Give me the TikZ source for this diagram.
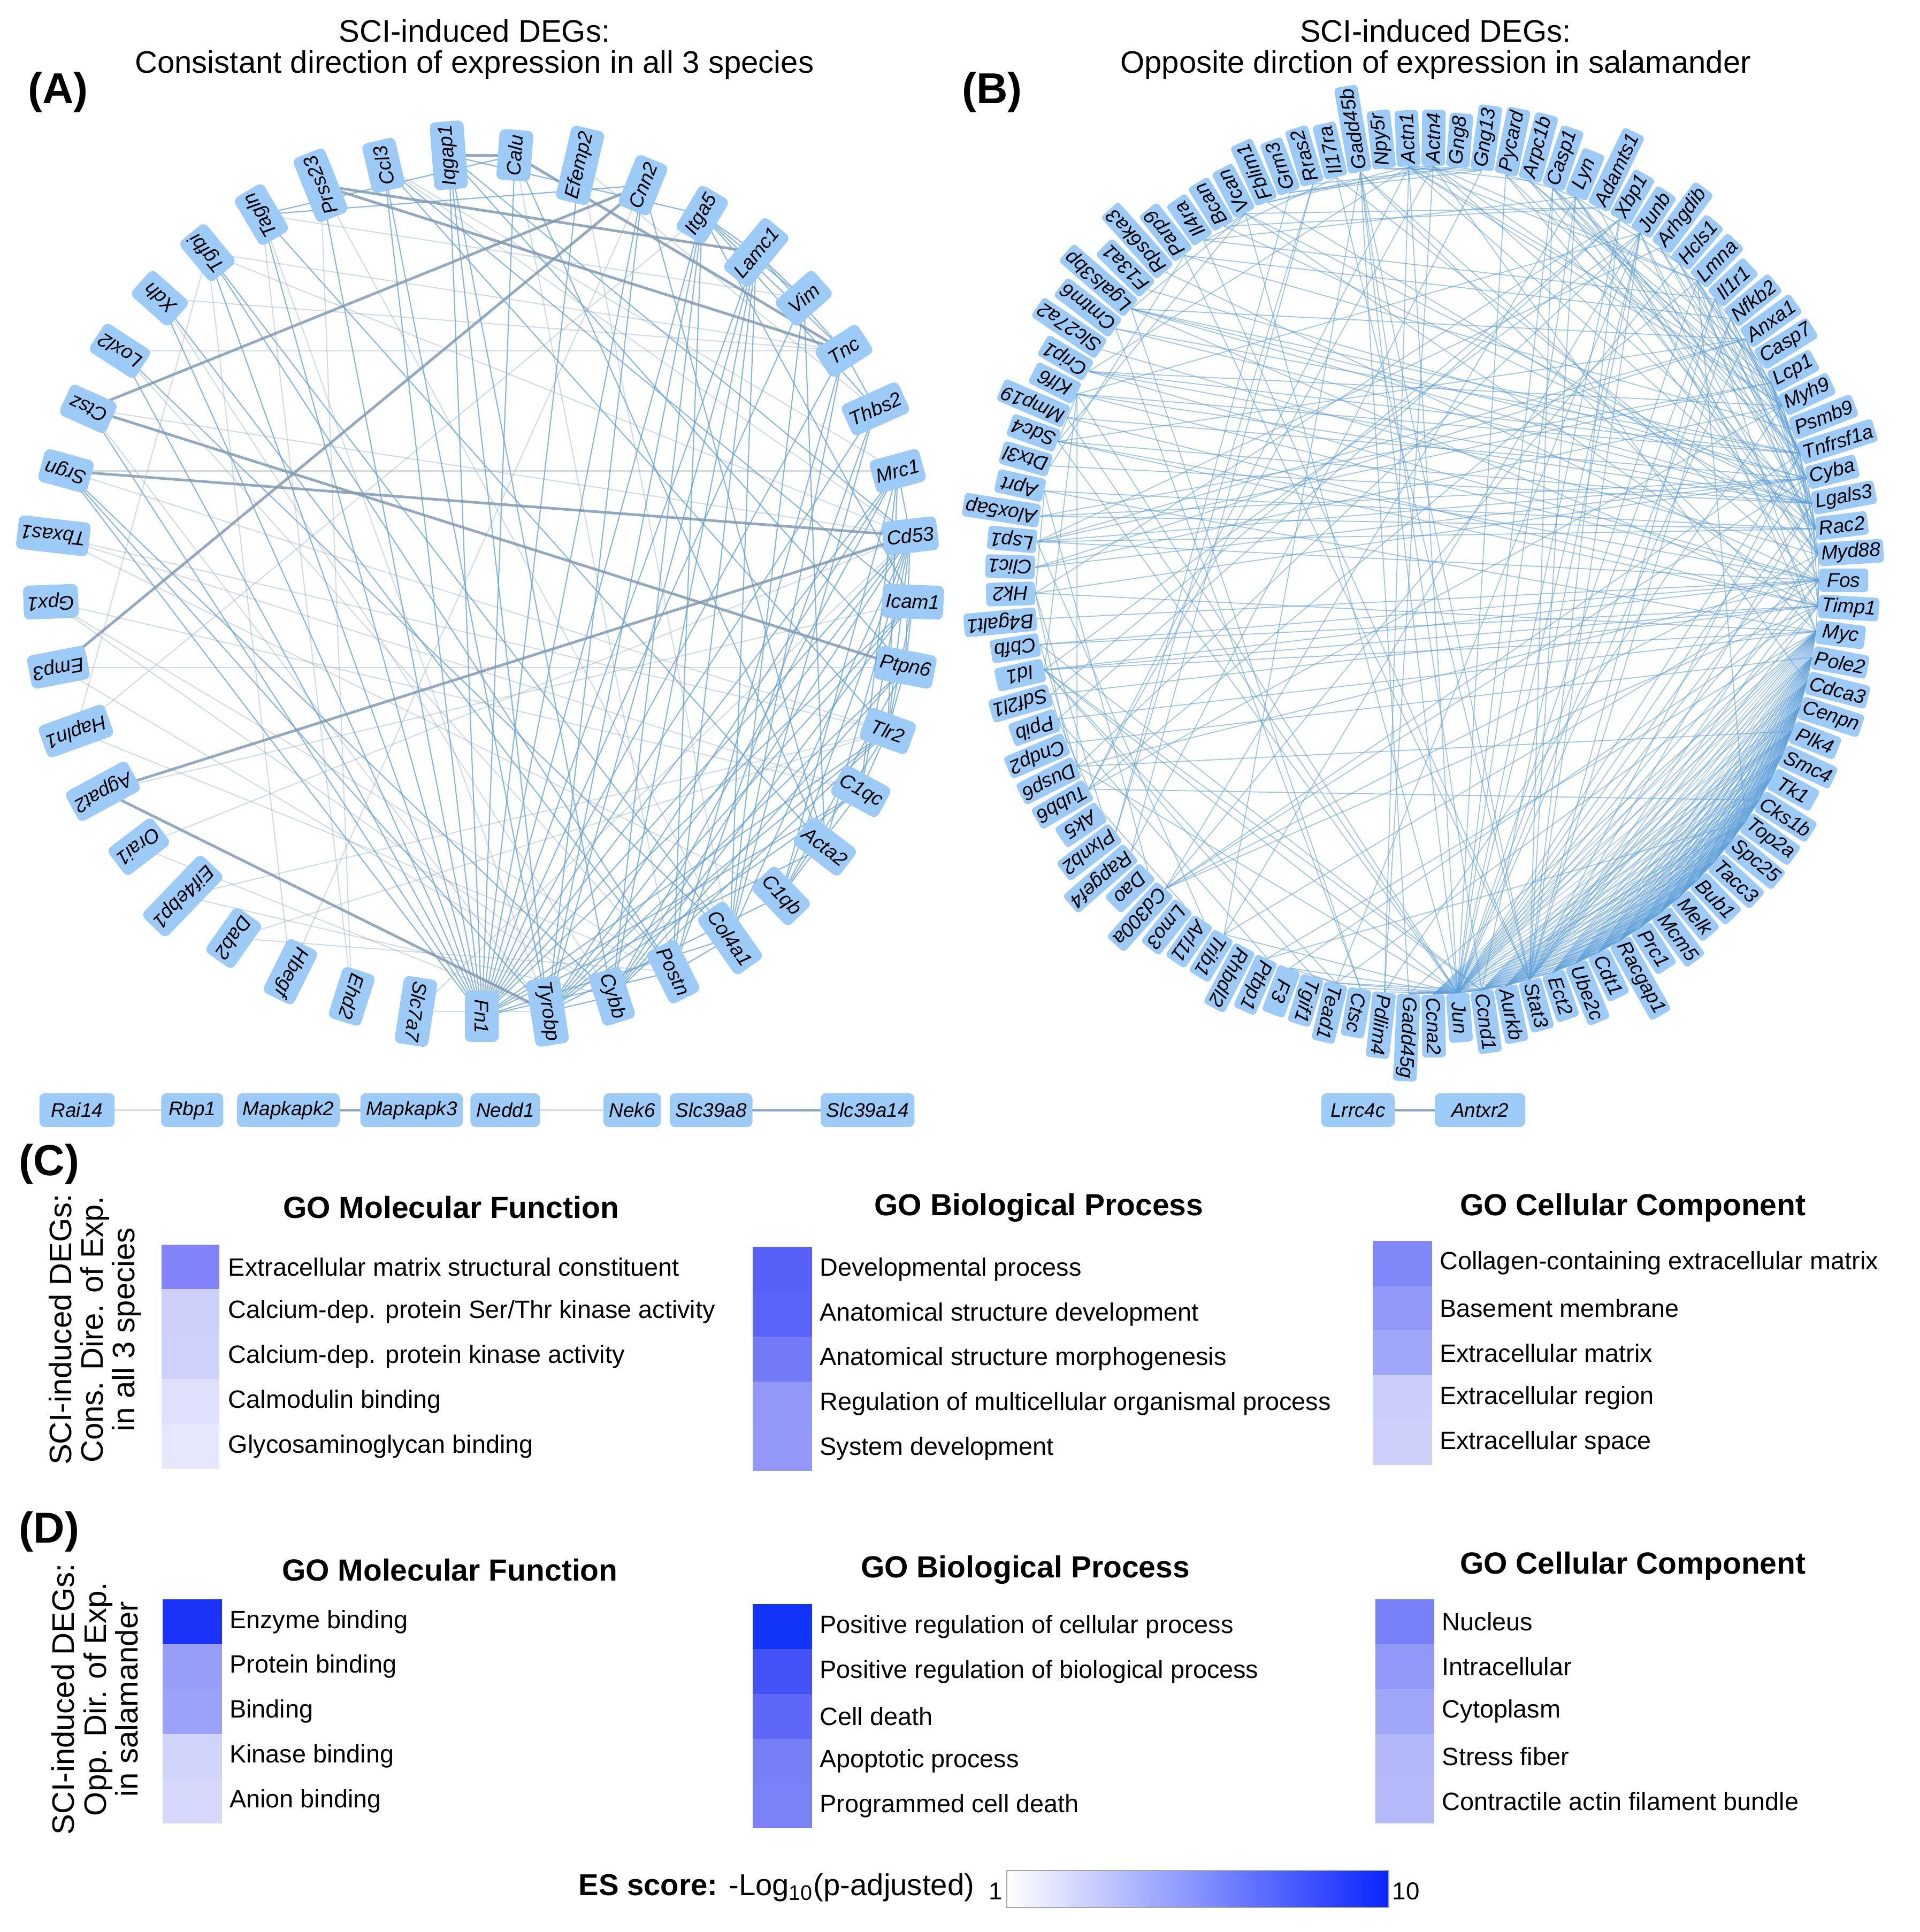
\documentclass[tikz,border=0pt]{standalone}
\usepackage{fontspec}
\setmainfont{Liberation Sans}
\usetikzlibrary{backgrounds}

\definecolor{nodeblue}{HTML}{9DCBF8}
\definecolor{edgeblue}{HTML}{5E9FD8}
\definecolor{edgegray}{HTML}{7F9AB4}
\definecolor{esblue}{HTML}{0A24FF}

\tikzset{
  agene/.style={fill=nodeblue, rounded corners=3pt, minimum height=18pt, minimum width=27pt,
    inner xsep=2pt, inner ysep=0pt, font=\fontsize{10.5}{12}\selectfont\itshape},
  bgene/.style={fill=nodeblue, rounded corners=2pt, minimum height=12.5pt, minimum width=26pt,
    inner xsep=1.5pt, inner ysep=0pt, font=\fontsize{10.5}{12}\selectfont\itshape},
  rowgene/.style={agene, inner xsep=3pt},
  aedge/.style={edgeblue, line width=0.6pt, opacity=0.75},
  faintedge/.style={edgegray, line width=0.6pt, opacity=0.35},
  heavyedge/.style={edgegray, line width=1.4pt, opacity=0.85},
  bedge/.style={edgeblue, line width=0.5pt, opacity=0.6},
  ccedge/.style={edgeblue, line width=0.45pt, opacity=0.5},
  panel/.style={font=\fontsize{23}{27}\selectfont\bfseries},
  title/.style={font=\fontsize{16.5}{16.5}\selectfont, align=center},
  gohead/.style={font=\fontsize{16.2}{18}\selectfont\bfseries},
  goterm/.style={anchor=west, inner xsep=0pt, font=\fontsize{13.3}{15}\selectfont},
  sidelabel/.style={rotate=90, align=center, font=\fontsize{16.5}{16.8}\selectfont},
}

\def\cclist{Pole2,Cdca3,Cenpn,Plk4,Smc4,Tk1,Cks1b,Top2a,Spc25,Tacc3,Bub1,Melk,Mcm5,Prc1,Racgap1,Cdt1,Ube2c,Ect2,Aurkb,Ccnd1,Ccna2,Myc}

\begin{document}
\begin{tikzpicture}[x=0.023cm, y=0.023cm]
\useasboundingbox (0,0) rectangle (1558,1568);

% titles
\node[panel] (labA) at (47,1493) {(A)};
\node[title] (titA) at (385,1528) {SCI-induced DEGs:\\Consistant direction of expression in all 3 species};
\node[panel] (labB) at (805,1493) {(B)};
\node[title] (titB) at (1165,1528) {SCI-induced DEGs:\\Opposite dirction of expression in salamander};

% (A) circle
\begin{scope}[shift={(391,1093)}]
  \foreach \g [count=\i, evaluate=\i as \ang using 270+(22-\i)*8.780488] in
    {Iqgap1,Calu,Efemp2,Cnn2,Itga5,Lamc1,Vim,Tnc,Thbs2,Mrc1,Cd53,Icam1,Ptpn6,Tlr2,C1qc,Acta2,C1qb,
     Col4a1,Postn,Cybb,Tyrobp,Fn1,Slc7a7,Ehd2,Hbegf,Dab2,Eif4ebp1,Orai1,Agpat2,Hapln1,Emp3,Gpx1,
     Tbxas1,Srgn,Ctsz,Loxl2,Xdh,Tgfbi,Tagln,Prss23,Ccl3}
    \node[agene, rotate=\ang] (\g) at (\ang:350) {\g};
\end{scope}

% (A) pairs
\node[rowgene, minimum width=40pt] (Rai14) at (62.5,667) {Rai14};
\node[rowgene, minimum width=33pt] (Rbp1) at (156,667) {Rbp1};
\node[rowgene] (Mapkapk2) at (234,667) {Mapkapk2};
\node[rowgene] (Mapkapk3) at (334,667) {Mapkapk3};
\node[rowgene] (Nedd1) at (410,667) {Nedd1};
\node[rowgene] (Nek6) at (513,667) {Nek6};
\node[rowgene] (Slc39a8) at (577,667) {Slc39a8};
\node[rowgene] (Slc39a14) at (704,667) {Slc39a14};

% (B) circle
\begin{scope}[shift={(1158,1097)}]
  \foreach \g [count=\i, evaluate=\i as \ang using (38-\i)*3.564356] in
    {Rps6ka3,Parp9,Il4ra,Bcan,Vcan,Fblim1,Grm3,Rras2,Il17ra,Gadd45b,Npy5r,Actn1,Actn4,Gng8,Gng13,
     Pycard,Arpc1b,Casp1,Lyn,Adamts1,Xbp1,Junb,Arhgdib,Hcls1,Lmna,Il1r1,Nfkb2,Anxa1,Casp7,Lcp1,
     Myh9,Psmb9,Tnfrsf1a,Cyba,Lgals3,Rac2,Myd88,Fos,Timp1,Myc,Pole2,Cdca3,Cenpn,Plk4,Smc4,Tk1,
     Cks1b,Top2a,Spc25,Tacc3,Bub1,Melk,Mcm5,Prc1,Racgap1,Cdt1,Ube2c,Ect2,Stat3,Aurkb,Ccnd1,Jun,
     Ccna2,Gadd45g,Pdlim4,Ctsc,Tead1,Tgif1,F3,Ptbp1,Rhbdl2,Trib1,Arl11,Lmo3,Cd300a,Dao,Rapgef4,
     Plxnb2,Ak5,Tubb6,Dusp6,Cndp2,Ppib,Sdf2l1,Id1,Cbfb,B4galt1,Hk2,Clic1,Lsp1,Alox5ap,Aprt,Dtx3l,
     Sdc4,Mmp19,Klf6,Crip1,Slc27a2,Cmtm6,Lgals3bp,F13a1}
    \node[bgene, rotate=\ang, anchor=west] (\g) at (\ang:318 and 336) {\g};
\end{scope}

\node[rowgene, minimum width=39pt] (Lrrc4c) at (1102,667) {Lrrc4c};
\node[rowgene, minimum width=48pt] (Antxr2) at (1201,667) {Antxr2};

% connectors
\begin{scope}[on background layer]
  \foreach \a/\b in {Fn1/Iqgap1,Fn1/Calu,Fn1/Efemp2,Fn1/Cnn2,Fn1/Itga5,Fn1/Lamc1,Fn1/Vim,Fn1/Tnc,
      Fn1/Thbs2,Fn1/Mrc1,Fn1/Cd53,Fn1/Icam1,Fn1/Tlr2,Fn1/C1qc,Fn1/Acta2,Fn1/Col4a1,Fn1/Postn,
      Fn1/Prss23,Fn1/Tagln,Fn1/Tgfbi,Fn1/Xdh,Fn1/Srgn,Fn1/Ccl3,Fn1/Ctsz,Fn1/Loxl2,
      Tyrobp/Cd53,Tyrobp/Ptpn6,Tyrobp/Tlr2,Tyrobp/C1qc,Tyrobp/C1qb,Tyrobp/Mrc1,Tyrobp/Icam1,
      Tyrobp/Cybb,Tyrobp/Ccl3,Tyrobp/Iqgap1,Tyrobp/Itga5,Tyrobp/Lamc1,Tyrobp/Cnn2,
      Cybb/Cd53,Cybb/Ptpn6,Cybb/Tlr2,Cybb/Icam1,Cybb/Mrc1,Cybb/Itga5,Cybb/Iqgap1,Cybb/Lamc1,
      Postn/Tnc,Postn/Thbs2,Postn/Col4a1,Postn/Lamc1,Postn/Itga5,
      Col4a1/Lamc1,Col4a1/Thbs2,Col4a1/Tnc,Col4a1/Vim,Col4a1/Cd53,
      C1qb/C1qc,C1qb/Cd53,C1qb/Tlr2,C1qb/Mrc1,C1qb/Ptpn6,C1qc/Cd53,C1qc/Tlr2,C1qc/Mrc1,
      Acta2/Cnn2,Acta2/Tagln,Acta2/Vim,Acta2/Calu,Acta2/Cd53,
      Tlr2/Cd53,Tlr2/Icam1,Tlr2/Ptpn6,Tlr2/Ccl3,Tlr2/Mrc1,Ptpn6/Cd53,Ptpn6/Icam1,Cd53/Mrc1,
      Icam1/Itga5,Icam1/Ccl3,Itga5/Lamc1,Itga5/Tnc,Itga5/Vim,Lamc1/Vim,Lamc1/Tnc,Thbs2/Tnc,
      Thbs2/Itga5,Tagln/Cnn2,Tagln/Calu,Iqgap1/Itga5,Iqgap1/Ptpn6,Iqgap1/Cd53,Xdh/Postn,
      Loxl2/Col4a1,Tgfbi/Col4a1,Tgfbi/Postn,Srgn/Tyrobp,Srgn/Cybb}
    \draw[aedge] (\a.center) -- (\b.center);
  \foreach \a/\b in {Tbxas1/Tlr2,Tbxas1/C1qc,Tbxas1/C1qb,Gpx1/Cybb,Hapln1/Postn,Orai1/Tyrobp,
      Eif4ebp1/Cybb,Dab2/Tlr2,Hbegf/Cnn2,Ehd2/Prss23,Slc7a7/Tyrobp,Emp3/Cybb,Xdh/Tnc,Tgfbi/Cd53,
      Loxl2/Tnc,Ccl3/Cd53,Efemp2/Col4a1,Calu/Postn,Prss23/Col4a1,Hapln1/Tgfbi,Gpx1/Postn,
      Ctsz/Cd53,Srgn/Mrc1,Tagln/Vim,Srgn/Tlr2,Gpx1/C1qc,Hapln1/Itga5,Dab2/Postn,Ehd2/Tagln,
      Hbegf/Tgfbi,Orai1/Cd53,Emp3/Ptpn6,Xdh/Cybb,Tgfbi/Tnc,Loxl2/Postn,Ctsz/Tyrobp,
      Agpat2/Icam1,Eif4ebp1/Tlr2,Slc7a7/Cd53,Ccl3/Mrc1,Efemp2/Thbs2,Tagln/Tyrobp,
      Rai14/Rbp1,Nedd1/Nek6}
    \draw[faintedge] (\a.center) -- (\b.center);
  \foreach \a/\b in {Iqgap1/Calu,Prss23/Lamc1,Prss23/Tnc,Calu/Tnc,Ctsz/Ptpn6,Ctsz/Cnn2,
      Srgn/Cd53,Agpat2/Cd53,Agpat2/Tyrobp,Emp3/Cnn2,Mapkapk2/Mapkapk3,Slc39a8/Slc39a14,
      Lrrc4c/Antxr2}
    \draw[heavyedge] (\a.center) -- (\b.center);

  % (B) cell-cycle cluster
  \foreach \a [count=\i] in \cclist {
    \foreach \b [count=\j] in \cclist {
      \ifnum\j>\i \draw[ccedge] (\a.west) -- (\b.west); \fi
    }
  }
  \foreach \a/\b in {Jun/Fos,Jun/Junb,Jun/Myc,Jun/Stat3,Jun/Timp1,Jun/Myd88,Jun/Tnfrsf1a,
      Jun/Lgals3,Jun/Casp1,Jun/Gadd45b,Jun/Gadd45g,Jun/Ctsc,Jun/F3,Jun/Id1,Jun/Lmna,Jun/Anxa1,
      Jun/Xbp1,Jun/Dusp6,Jun/Klf6,Jun/Trib1,Jun/Sdc4,Jun/Actn1,Jun/Tead1,Jun/Cyba,Jun/Pdlim4,
      Jun/Nfkb2,Jun/Il1r1,Jun/Vcan,Jun/Mmp19,Jun/Pycard,Jun/Rac2,Jun/Lyn,Jun/Ccnd1,Jun/Ccna2,
      Jun/Top2a,Jun/Plk4,
      Fos/Junb,Fos/Myc,Fos/Stat3,Fos/Timp1,Fos/Myd88,Fos/Klf6,Fos/Dusp6,Fos/Id1,Fos/Trib1,
      Fos/Gadd45b,Fos/Crip1,Fos/Cbfb,Fos/Rps6ka3,Fos/Sdc4,Fos/Lsp1,Fos/B4galt1,
      Myc/Stat3,Myc/Id1,Myc/Gadd45g,Myc/Lmna,Myc/Ptbp1,Myc/Ppib,Myc/Hk2,Myc/Aprt,Myc/Tead1,Myc/Junb,
      Stat3/Myd88,Stat3/Il1r1,Stat3/Timp1,Stat3/Nfkb2,Stat3/Junb,Stat3/Xbp1,Stat3/Lgals3,
      Stat3/Casp1,Stat3/Tnfrsf1a,Stat3/Il4ra,Stat3/Il17ra,Stat3/Lyn,Stat3/Parp9,Stat3/Gadd45b,
      Tnfrsf1a/Casp7,Tnfrsf1a/Casp1,Tnfrsf1a/Myd88,Tnfrsf1a/Nfkb2,Tnfrsf1a/Pycard,Tnfrsf1a/Lmna,
      Tnfrsf1a/Il1r1,Tnfrsf1a/Anxa1,Tnfrsf1a/Psmb9,Tnfrsf1a/Cmtm6,Tnfrsf1a/Lgals3bp,Tnfrsf1a/Klf6,
      Tnfrsf1a/Crip1,Tnfrsf1a/Cd300a,
      Myd88/Il1r1,Myd88/Pycard,Myd88/Casp1,Myd88/Il17ra,Myd88/Lyn,Myd88/Nfkb2,Myd88/Rac2,
      Myd88/Lcp1,Myd88/Cd300a,Myd88/Slc27a2,
      Cyba/Rac2,Cyba/Lcp1,Cyba/Hcls1,Cyba/Lyn,Cyba/Arhgdib,Cyba/Lsp1,Cyba/Alox5ap,Cyba/Clic1,
      Cyba/Hk2,Cyba/Cd300a,Cyba/Lgals3bp,Cyba/Mmp19,Cyba/F13a1,
      Lgals3/Lgals3bp,Lgals3/Timp1,Lgals3/Anxa1,Lgals3/Actn4,Lgals3/Lmna,Lgals3/Cmtm6,Lgals3/Sdc4,
      Lgals3/Vcan,Lgals3/Bcan,Lgals3/Crip1,Lgals3/Myh9,Lgals3/Klf6,Lgals3/Dtx3l,
      Rac2/Arhgdib,Rac2/Lcp1,Rac2/Hcls1,Rac2/Lsp1,Rac2/Lyn,Rac2/Arpc1b,Rac2/Actn1,Rac2/Myh9,
      Rac2/Fblim1,Rac2/Aprt,Rac2/Alox5ap,
      Timp1/Mmp19,Timp1/Vcan,Timp1/Sdc4,Timp1/Lgals3bp,Timp1/Tnfrsf1a,Timp1/Cbfb,Timp1/F3,
      Timp1/Adamts1,Timp1/Cd300a,Timp1/Id1,Timp1/Sdf2l1,
      Actn1/Actn4,Actn1/Myh9,Actn1/Fblim1,Actn1/Pdlim4,Actn1/Crip1,Actn1/Lmna,Actn1/Arpc1b,
      Actn1/Lcp1,Actn1/Tubb6,Actn4/Myh9,Actn4/Fblim1,Actn4/Pdlim4,Actn4/Lmna,Actn4/Tubb6,Actn4/Cdca3,
      Casp1/Pycard,Casp1/Casp7,Casp1/Psmb9,Casp1/Lyn,
      Gng8/Gng13,Gng8/Grm3,Gng8/Npy5r,Gng8/Rras2,Gng13/Grm3,Gng13/Npy5r,Gng13/Rapgef4,
      Rras2/Plxnb2,Rras2/Rapgef4,Grm3/Plxnb2,
      Gadd45b/Gadd45g,Gadd45b/Ccnd1,Gadd45b/Trib1,Gadd45b/Myc,Gadd45g/Ccnd1,Gadd45g/Aurkb,
      Parp9/Psmb9,Parp9/Dtx3l,Parp9/Nfkb2,Il4ra/Il17ra,Il4ra/Il1r1,Il4ra/Lyn,
      Bcan/Vcan,Vcan/Adamts1,Vcan/Sdc4,Vcan/Lgals3bp,Bcan/Adamts1,
      Xbp1/Ppib,Xbp1/Sdf2l1,Xbp1/Hk2,Xbp1/Junb,
      Junb/Id1,Junb/Klf6,Junb/Trib1,Junb/Dusp6,Junb/Tead1,
      Lmna/Myh9,Lmna/Tubb6,Lmna/Top2a,Nfkb2/Psmb9,Nfkb2/Il1r1,
      Anxa1/Lgals3bp,Anxa1/Myh9,Anxa1/Clic1,Anxa1/Sdc4,Anxa1/Lsp1,
      Lcp1/Lsp1,Lcp1/Hcls1,Lcp1/Myh9,Lcp1/Alox5ap,Lcp1/Arpc1b,
      Myh9/Clic1,Myh9/Tubb6,Myh9/Pdlim4,Myh9/Crip1,Myh9/Arpc1b,
      Hcls1/Lyn,Hcls1/Arhgdib,Arhgdib/Lsp1,Lyn/Cd300a,Hcls1/Cd300a,
      Ccnd1/Tead1,Ccnd1/Id1,Ccnd1/Cbfb,Ccnd1/Junb,
      Ptbp1/Ppib,Ppib/Sdf2l1,Ppib/Tubb6,Hk2/Ak5,Hk2/Aprt,Aprt/Dao,Hk2/Cndp2,
      Klf6/Dusp6,Klf6/Id1,Klf6/Sdc4,Id1/Tgif1,Id1/Tead1,Tgif1/Tead1,
      Cbfb/Dusp6,Arl11/Lsp1,Lmo3/Ak5,Tubb6/Cks1b,Ctsc/Lgals3bp,Ctsc/Cmtm6,F3/Tead1,
      Ptbp1/Top2a,Cndp2/Pole2,Dusp6/Plk4}
    \draw[bedge] (\a.west) -- (\b.west);
\end{scope}

% (C) and (D) enrichment
\node[panel] (labC) at (40,623) {(C)};
\node[sidelabel] (sideC) at (77,489) {SCI-induced DEGs:\\Cons. Dire. of Exp.\\in all 3 species};
\node[panel] (labD) at (40,325) {(D)};
\node[sidelabel] (sideD) at (77,189) {SCI-induced DEGs:\\Opp. Dir. of Exp.\\in salamander};

\node[gohead] (cmfh) at (366,588) {GO Molecular Function};
\node[gohead] (cbph) at (843,588) {GO Biological Process};
\node[gohead] (ccch) at (1325,588) {GO Cellular Component};
\node[gohead] (dmfh) at (365,294) {GO Molecular Function};
\node[gohead] (dbph) at (832,294) {GO Biological Process};
\node[gohead] (dcch) at (1325,297) {GO Cellular Component};

\begin{scope}[shift={(131,558)}]
  \foreach \col/\term [count=\k] in {8282F9/{Extracellular matrix structural constituent},
      CDD0FB/{Calcium-dep. protein Ser/Thr kinase activity},
      CED1FB/{Calcium-dep. protein kinase activity},DEE0FC/{Calmodulin binding},
      E6E7FD/{Glycosaminoglycan binding}}{
    \definecolor{cell}{HTML}{\col}
    \fill[cell] (0,{-(\k-1)*36.4}) rectangle (47,{-\k*36.4});
    \node[goterm] (cmf\k) at (54,{-(\k-0.5)*36.4}) {\term};
  }
\end{scope}
\begin{scope}[shift={(611,556)}]
  \foreach \col/\term [count=\k] in {5761F8/{Developmental process},
      5A64F8/{Anatomical structure development},7479F8/{Anatomical structure morphogenesis},
      9398F8/{Regulation of multicellular organismal process},9499F9/{System development}}{
    \definecolor{cell}{HTML}{\col}
    \fill[cell] (0,{-(\k-1)*36.4}) rectangle (48,{-\k*36.4});
    \node[goterm] (cbp\k) at (54,{-(\k-0.5)*36.4}) {\term};
  }
\end{scope}
\begin{scope}[shift={(1114,561)}]
  \foreach \col/\term [count=\k] in {8087F8/{Collagen-containing extracellular matrix},
      9198F8/{Basement membrane},A0A6F8/{Extracellular matrix},CBCEFA/{Extracellular region},
      CDD0FB/{Extracellular space}}{
    \definecolor{cell}{HTML}{\col}
    \fill[cell] (0,{-(\k-1)*36.4}) rectangle (48,{-\k*36.4});
    \node[goterm] (ccc\k) at (54,{-(\k-0.5)*36.4}) {\term};
  }
\end{scope}
\begin{scope}[shift={(132,270)}]
  \foreach \col/\term [count=\k] in {1B33F8/{Enzyme binding},979EF8/{Protein binding},
      9CA2F8/{Binding},D0D3FA/{Kinase binding},D5D8FB/{Anion binding}}{
    \definecolor{cell}{HTML}{\col}
    \fill[cell] (0,{-(\k-1)*36.4}) rectangle (48,{-\k*36.4});
    \node[goterm] (dmf\k) at (54,{-(\k-0.5)*36.4}) {\term};
  }
\end{scope}
\begin{scope}[shift={(611,266)}]
  \foreach \col/\term [count=\k] in {1233F8/{Positive regulation of cellular process},
      4352F8/{Positive regulation of biological process},5E67F8/{Cell death},
      777EF8/{Apoptotic process},7B82F8/{Programmed cell death}}{
    \definecolor{cell}{HTML}{\col}
    \fill[cell] (0,{-(\k-1)*36.4}) rectangle (48,{-\k*36.4});
    \node[goterm] (dbp\k) at (54,{-(\k-0.5)*36.4}) {\term};
  }
\end{scope}
\begin{scope}[shift={(1116,270)}]
  \foreach \col/\term [count=\k] in {7880F8/{Nucleus},9198F8/{Intracellular},A1A7F8/{Cytoplasm},
      B3B8FA/{Stress fiber},B5BAFA/{Contractile actin filament bundle}}{
    \definecolor{cell}{HTML}{\col}
    \fill[cell] (0,{-(\k-1)*36.4}) rectangle (48,{-\k*36.4});
    \node[goterm] (dcc\k) at (54,{-(\k-0.5)*36.4}) {\term};
  }
\end{scope}

% colour scale
\shade[left color=white, right color=esblue] (817,20) rectangle (1127,50);
\draw[gray!70, line width=0.6pt] (817,20) rectangle (1127,50);
\node[anchor=east, font=\fontsize{16}{19}\selectfont] (esl) at (796,36)
  {\textbf{ES score:} -Log\textsubscript{10}(p-adjusted)};
\node[font=\fontsize{13}{15}\selectfont] (esmin) at (808,33) {1};
\node[anchor=west, inner xsep=1pt, font=\fontsize{13}{15}\selectfont] (esmax) at (1128,33) {10};
\end{tikzpicture}
\end{document}
